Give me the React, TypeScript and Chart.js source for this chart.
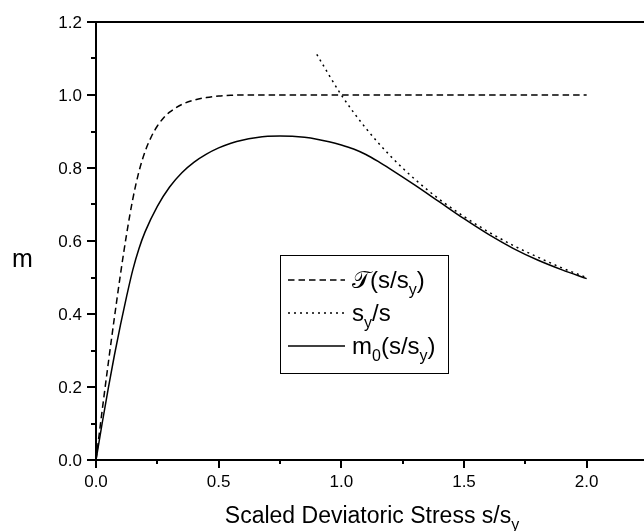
import { useEffect, useRef } from "react";
import { Chart, registerables } from "chart.js";

Chart.register(...registerables);

// Axis ticks
const xMajorTicks = [0, 0.5, 1.0, 1.5, 2.0];
const xMinorTicks = [0.25, 0.75, 1.25, 1.75];
const xTickLabels = ["0.0", "0.5", "1.0", "1.5", "2.0"];
const yMajorTicks = [0, 0.2, 0.4, 0.6, 0.8, 1.0, 1.2];
const yMinorTicks = [0.1, 0.3, 0.5, 0.7, 0.9, 1.1];
const yTickLabels = ["0.0", "0.2", "0.4", "0.6", "0.8", "1.0", "1.2"];

// T(s/s_y): dashed curve
const tauS = [0, 0.025, 0.05, 0.075, 0.1, 0.125, 0.15, 0.175, 0.2, 0.225, 0.25, 0.275, 0.3, 0.35, 0.4, 0.45, 0.5, 0.55, 0.6, 0.8, 1.0, 1.5, 2.0];
const tauV = [0, 0.135, 0.265, 0.39, 0.51, 0.62, 0.715, 0.79, 0.845, 0.885, 0.915, 0.937, 0.953, 0.974, 0.986, 0.993, 0.997, 0.999, 1.0, 1.0, 1.0, 1.0, 1.0];

// s_y/s: dotted curve
const ratioS = [0.9, 1.0, 1.1, 1.2, 1.3, 1.4, 1.5, 1.6, 1.7, 1.8, 1.9, 2.0];
const ratioV = [1.111, 1.0, 0.909, 0.833, 0.769, 0.714, 0.667, 0.625, 0.588, 0.556, 0.526, 0.5];

// m0(s/s_y): solid curve
const m0S = [0, 0.025, 0.05, 0.075, 0.1, 0.125, 0.15, 0.175, 0.2, 0.25, 0.3, 0.35, 0.4, 0.45, 0.5, 0.55, 0.6, 0.65, 0.7, 0.75, 0.8, 0.85, 0.9, 0.95, 1.0, 1.05, 1.1, 1.15, 1.2, 1.3, 1.4, 1.5, 1.6, 1.7, 1.8, 1.9, 2.0];
const m0V = [0, 0.1, 0.196, 0.287, 0.371, 0.449, 0.521, 0.579, 0.625, 0.695, 0.748, 0.787, 0.816, 0.838, 0.855, 0.868, 0.877, 0.883, 0.887, 0.888, 0.887, 0.884, 0.879, 0.872, 0.863, 0.852, 0.837, 0.818, 0.797, 0.753, 0.707, 0.661, 0.618, 0.58, 0.548, 0.521, 0.497];

const FONT = "'Liberation Sans', Arial, Helvetica, sans-serif";
const DASHED = [6.5, 4];
const DOTTED = [2, 4];

type Run = { text: string; sub?: boolean; family?: string; italic?: boolean };

function runFont(r: Run, size: number) {
  const s = r.sub ? Math.round(size * 0.68) : size;
  return `${r.italic ? "italic " : ""}${s}px ${r.family || FONT}`;
}

function measureRuns(ctx: CanvasRenderingContext2D, runs: Run[], size: number) {
  let w = 0;
  for (const r of runs) {
    ctx.font = runFont(r, size);
    w += ctx.measureText(r.text).width;
  }
  return w;
}

function drawRuns(ctx: CanvasRenderingContext2D, runs: Run[], x: number, baseline: number, size: number) {
  ctx.textAlign = "left";
  ctx.textBaseline = "alphabetic";
  let cx = x;
  for (const r of runs) {
    ctx.font = runFont(r, size);
    const y = r.sub ? baseline + size * 0.3 : baseline;
    ctx.fillText(r.text, cx, y);
    cx += ctx.measureText(r.text).width;
  }
}

const legendItems: { dash: number[]; runs: Run[] }[] = [
  {
    dash: DASHED,
    runs: [
      { text: "\u{1D4AF}", family: "'DejaVu Serif', 'DejaVu Sans', serif" },
      { text: "(s/s" },
      { text: "y", sub: true },
      { text: ")" },
    ],
  },
  {
    dash: DOTTED,
    runs: [{ text: "s" }, { text: "y", sub: true }, { text: "/s" }],
  },
  {
    dash: [],
    runs: [{ text: "m" }, { text: "0", sub: true }, { text: "(s/s" }, { text: "y", sub: true }, { text: ")" }],
  },
];

const framePlugin = {
  id: "frameAndLabels",
  afterDraw(chart: Chart) {
    const ctx = chart.ctx;
    const xs = chart.scales.x;
    const ys = chart.scales.y;
    const { left, right, top, bottom } = chart.chartArea;
    ctx.save();
    ctx.strokeStyle = "#000";
    ctx.fillStyle = "#000";
    ctx.setLineDash([]);
    ctx.lineCap = "butt";

    // frame
    ctx.lineWidth = 2;
    ctx.beginPath();
    ctx.moveTo(left, top);
    ctx.lineTo(right, top);
    ctx.moveTo(left, top - 1);
    ctx.lineTo(left, bottom + 1);
    ctx.moveTo(left - 1, bottom);
    ctx.lineTo(right, bottom);
    ctx.moveTo(right, top);
    ctx.lineTo(right, bottom);
    ctx.stroke();

    // ticks
    ctx.beginPath();
    for (const v of yMajorTicks) {
      const py = Math.round(ys.getPixelForValue(v));
      ctx.moveTo(left, py);
      ctx.lineTo(left - 9, py);
    }
    for (const v of yMinorTicks) {
      const py = Math.round(ys.getPixelForValue(v));
      ctx.moveTo(left, py);
      ctx.lineTo(left - 5, py);
    }
    for (const v of xMajorTicks) {
      const px = Math.round(xs.getPixelForValue(v));
      ctx.moveTo(px, bottom);
      ctx.lineTo(px, bottom + 8);
    }
    for (const v of xMinorTicks) {
      const px = Math.round(xs.getPixelForValue(v));
      ctx.moveTo(px, bottom);
      ctx.lineTo(px, bottom + 4);
    }
    ctx.stroke();

    // tick labels
    ctx.font = `17px ${FONT}`;
    ctx.textAlign = "right";
    ctx.textBaseline = "middle";
    yMajorTicks.forEach((v, i) => {
      ctx.fillText(yTickLabels[i], left - 14, ys.getPixelForValue(v) + 1);
    });
    ctx.textAlign = "center";
    ctx.textBaseline = "top";
    xMajorTicks.forEach((v, i) => {
      ctx.fillText(xTickLabels[i], xs.getPixelForValue(v), bottom + 14);
    });

    // axis titles
    ctx.font = `25px ${FONT}`;
    ctx.textAlign = "left";
    ctx.textBaseline = "alphabetic";
    ctx.fillText("m", 12, 267);

    const xTitle: Run[] = [{ text: "Scaled Deviatoric Stress s/s" }, { text: "y", sub: true }];
    const tSize = 23;
    const tw = measureRuns(ctx, xTitle, tSize);
    drawRuns(ctx, xTitle, (left + right) / 2 - tw / 2, 523, tSize);

    // legend
    const bx = 280, by = 255, bw = 168, bh = 118;
    ctx.lineWidth = 1;
    ctx.setLineDash([]);
    ctx.fillStyle = "#fff";
    ctx.fillRect(bx, by, bw, bh);
    ctx.strokeRect(bx + 0.5, by + 0.5, bw, bh);
    ctx.fillStyle = "#000";
    const rowY = [280, 313, 346];
    legendItems.forEach((item, i) => {
      const y = rowY[i];
      ctx.lineWidth = 1.5;
      ctx.setLineDash(item.dash);
      ctx.beginPath();
      ctx.moveTo(288, y);
      ctx.lineTo(345, y);
      ctx.stroke();
      ctx.setLineDash([]);
      drawRuns(ctx, item.runs, 352, y + 8, 24);
    });
    ctx.restore();
  },
};

export default function App() {
  const canvasRef = useRef<HTMLCanvasElement | null>(null);

  useEffect(() => {
    const canvas = canvasRef.current;
    if (!canvas) return;
    const toPoints = (xs: number[], ys: number[]) => xs.map((x, i) => ({ x, y: ys[i] }));
    const common = {
      borderColor: "#000",
      borderWidth: 1.5,
      pointRadius: 0,
      fill: false,
      cubicInterpolationMode: "monotone" as const,
    };
    const chart = new Chart(canvas, {
      type: "line",
      data: {
        datasets: [
          { ...common, label: "T(s/s_y)", data: toPoints(tauS, tauV), borderDash: DASHED },
          { ...common, label: "s_y/s", data: toPoints(ratioS, ratioV), borderDash: DOTTED },
          { ...common, label: "m_0(s/s_y)", data: toPoints(m0S, m0V) },
        ],
      },
      options: {
        responsive: false,
        devicePixelRatio: 1,
        animation: false,
        layout: { padding: { left: 96, top: 22, right: 12, bottom: 71 } },
        plugins: { legend: { display: false }, tooltip: { enabled: false } },
        scales: {
          x: { type: "linear", min: 0, max: 2.25, display: false },
          y: { type: "linear", min: 0, max: 1.2, display: false },
        },
      },
      plugins: [framePlugin],
    });
    return () => chart.destroy();
  }, []);

  return (
    <div
      style={{
        position: "fixed",
        left: 0,
        top: 0,
        width: 644,
        height: 531,
        overflow: "hidden",
        background: "#fff",
      }}
    >
      <canvas ref={canvasRef} width={660} height={531} style={{ display: "block", width: 660, height: 531 }} />
    </div>
  );
}
